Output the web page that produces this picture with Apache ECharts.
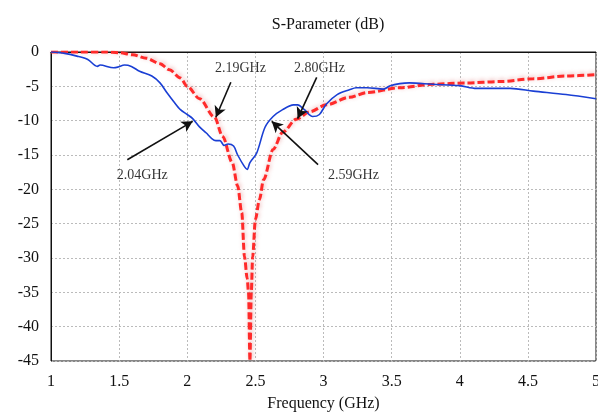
<!DOCTYPE html>
<html>
<head>
<meta charset="utf-8">
<script src="https://cdn.jsdelivr.net/npm/echarts@6/dist/echarts.min.js"></script>
<style>
  html, body { margin: 0; padding: 0; background: #fff; }
  #chart { width: 598px; height: 412px; }
</style>
</head>
<body>
<div id="chart"></div>
<script>
// measured S11 (blue)
const measFreq = [1.0, 1.1, 1.19, 1.27, 1.34, 1.36, 1.46, 1.49, 1.54, 1.59, 1.65, 1.74, 1.80, 1.85, 1.90, 1.95, 2.0, 2.04, 2.09, 2.14, 2.18, 2.21, 2.24, 2.27, 2.30, 2.34, 2.37, 2.42, 2.44, 2.46, 2.51, 2.57, 2.63, 2.70, 2.78, 2.81, 2.86, 2.92, 2.97, 3.02, 3.10, 3.19, 3.24, 3.32, 3.44, 3.49, 3.56, 3.63, 3.80, 4.0, 4.12, 4.37, 4.54, 4.78, 5.0];
const measDb = [0, -0.2, -0.6, -1.1, -2.1, -1.9, -2.3, -2.2, -1.9, -2.1, -2.8, -3.5, -4.5, -5.9, -7.2, -8.4, -9.1, -9.7, -10.9, -11.8, -12.6, -12.9, -12.9, -13.6, -13.4, -13.7, -15.0, -16.7, -17.1, -16.1, -14.7, -11.0, -9.4, -8.4, -7.7, -7.7, -8.4, -9.4, -9.1, -7.6, -6.2, -5.5, -5.2, -5.2, -5.4, -4.9, -4.6, -4.5, -4.7, -4.9, -5.3, -5.3, -5.7, -6.2, -6.8];

// simulated S11 (red dashed)
const simFreq = [1.0, 1.2, 1.4, 1.5, 1.6, 1.7, 1.8, 1.87, 1.95, 2.0, 2.09, 2.2, 2.26, 2.33, 2.37, 2.40, 2.42, 2.44, 2.45, 2.46, 2.47, 2.48, 2.50, 2.53, 2.56, 2.63, 2.70, 2.80, 2.90, 3.02, 3.19, 3.32, 3.56, 3.80, 4.05, 4.30, 4.54, 4.78, 5.0];
const simDb = [0, 0, 0, -0.1, -0.4, -0.9, -1.7, -2.6, -3.8, -5.0, -6.8, -9.5, -12.3, -16.1, -19.5, -23.4, -29.8, -33.0, -35.1, -45.0, -35.0, -29.8, -24.4, -21.5, -18.6, -14.2, -11.7, -9.8, -8.7, -7.7, -6.6, -5.9, -5.2, -4.7, -4.5, -4.3, -3.9, -3.5, -3.3];

// annotations
const noteText = ['2.04GHz', '2.19GHz', '2.80GHz', '2.59GHz'];
const notePos = [[1.67, -17.9], [2.39, -2.4], [2.97, -2.4], [3.22, -18.0]];
const arrowFrom = [[1.56, -15.7], [2.32, -4.4], [2.95, -3.7], [2.96, -16.4]];
const arrowTo = [[2.04, -10.1], [2.21, -9.5], [2.81, -9.7], [2.62, -10.1]];

const xTicks = { min: 1, max: 5, step: 0.5 };
const yTicks = { min: -45, max: 0, step: 5 };

const serif = '"Liberation Serif", "DejaVu Serif", serif';
const zip = (a, b) => a.map((v, i) => [v, b[i]]);

const chart = echarts.init(document.getElementById('chart'));
chart.setOption({
    animation: false,
    title: {
        text: 'S-Parameter (dB)',
        left: 323, top: 12, textAlign: 'center',
        textStyle: { fontFamily: serif, fontSize: 16, fontWeight: 'normal', color: '#111' }
    },
    grid: {
        left: 51, right: 2, top: 52, bottom: 51,
        outerBoundsMode: 'none', containLabel: false,
        show: true, borderColor: '#111', borderWidth: 1
    },
    xAxis: {
        type: 'value', min: xTicks.min, max: xTicks.max, interval: xTicks.step,
        name: 'Frequency (GHz)', nameLocation: 'middle', nameGap: 35,
        nameTextStyle: { fontFamily: serif, fontSize: 16, color: '#111' },
        axisLine: { lineStyle: { color: '#111' } },
        axisTick: { show: false },
        axisLabel: { fontFamily: serif, fontSize: 16, color: '#111', margin: 13 },
        splitLine: { lineStyle: { color: '#bbb', type: [2, 2] } }
    },
    yAxis: {
        type: 'value', min: yTicks.min, max: yTicks.max, interval: yTicks.step,
        axisLine: { show: true, lineStyle: { color: '#111' } },
        axisTick: { show: false },
        axisLabel: { fontFamily: serif, fontSize: 16, color: '#111', margin: 12 },
        splitLine: { lineStyle: { color: '#bbb', type: [2, 2] } }
    },
    series: [
        {
            type: 'line', data: zip(simFreq, simDb), smooth: 0.3, smoothMonotone: 'x',
            symbol: 'none', z: 2,
            lineStyle: {
                color: '#ff2a2a', width: 3, type: [7, 3],
                shadowColor: 'rgba(200,40,40,0.35)', shadowBlur: 4, shadowOffsetX: 1, shadowOffsetY: -1
            }
        },
        {
            type: 'line', data: zip(measFreq, measDb), smooth: 0.3,
            symbol: 'none', z: 3,
            lineStyle: { color: '#1a3fd4', width: 1.6 },
            markLine: {
                silent: true, symbol: ['none', 'arrow'], symbolSize: [9, 11],
                label: { show: false },
                lineStyle: { color: '#111', width: 1.6, type: 'solid' },
                data: arrowFrom.map((p, i) => [{ coord: p }, { coord: arrowTo[i] }])
            }
        },
        {
            type: 'scatter', data: notePos, symbolSize: 0, z: 5,
            label: {
                show: true, position: 'inside',
                formatter: p => noteText[p.dataIndex],
                fontFamily: serif, fontSize: 14, color: '#000', textBorderWidth: 0
            }
        }
    ]
});
</script>
</body>
</html>
